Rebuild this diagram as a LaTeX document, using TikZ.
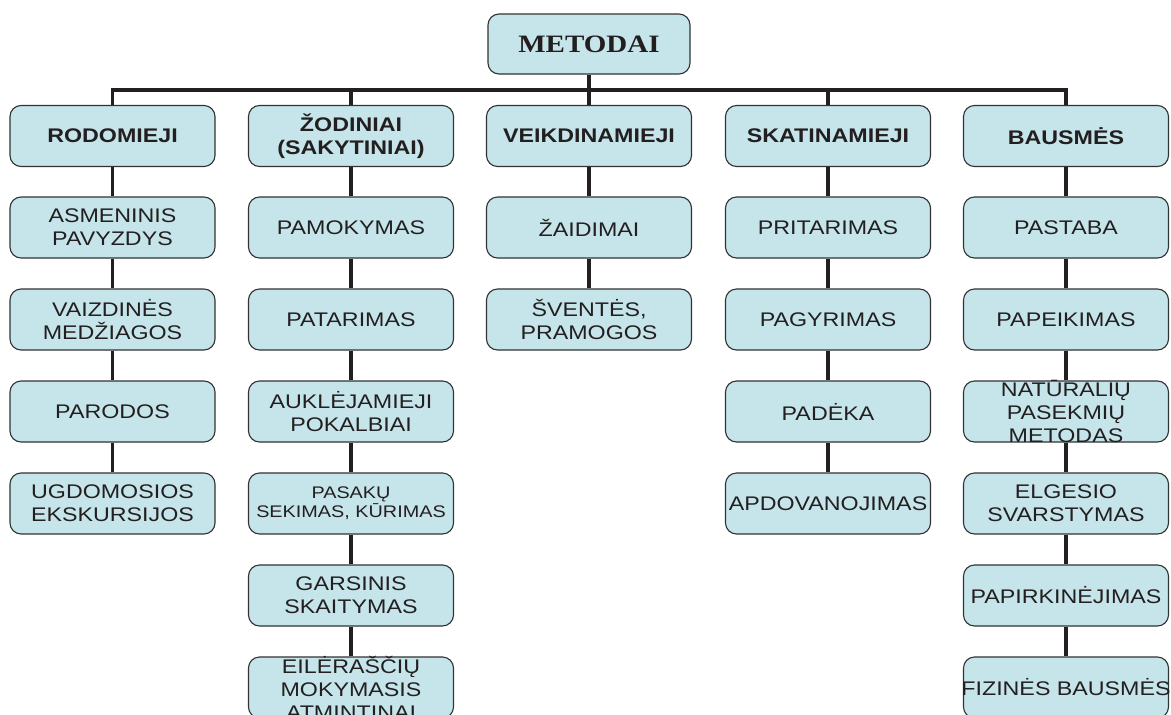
\documentclass[tikz,border=0pt]{standalone}
\usepackage{fontspec}
\setmainfont{Liberation Sans}[FakeStretch=1.18]
\newfontfamily\topfont{Liberation Serif}[FakeStretch=1.16]
\usetikzlibrary{backgrounds}
\definecolor{boxfill}{RGB}{198,229,234}
\definecolor{boxline}{RGB}{50,50,50}
\definecolor{linec}{RGB}{35,31,32}
\definecolor{txtc}{RGB}{35,31,32}
\tikzset{
  boxs/.style={draw=boxline, fill=boxfill, rounded corners=11pt, line width=1.1pt,
    minimum width=205pt, minimum height=61pt, inner sep=0pt},
  lbl/.style={align=center, text=txtc, inner sep=0pt, font=\fontsize{19.7}{23}\selectfont},
  hdr/.style={lbl, font=\fontsize{19.7}{23}\selectfont\bfseries},
  small/.style={lbl, font=\fontsize{16.8}{19}\selectfont},
  toplbl/.style={lbl, font=\fontsize{25}{28}\selectfont\topfont\bfseries},
  conn/.style={line width=3.8pt, draw=linec}
}
\newcommand\mkbox[4][lbl]{\node[boxs] (#2) at (#3) {}; \node[#1] (#2t) at (#2.center) {#4};}
\begin{document}
\begin{tikzpicture}[x=1pt,y=-1pt]
\useasboundingbox (0,0) rectangle (1171,715);
% top
\node[boxs, minimum width=202pt, minimum height=60pt] (top) at (589,44) {};
\node[toplbl] (topt) at (top.center) {METODAI};
% column 1
\mkbox[hdr]{a0}{112.5,136}{RODOMIEJI}
\mkbox{a1}{112.5,227.5}{ASMENINIS\\PAVYZDYS}
\mkbox{a2}{112.5,319.5}{VAIZDINĖS\\MEDŽIAGOS}
\mkbox{a3}{112.5,411.5}{PARODOS}
\mkbox{a4}{112.5,503.5}{UGDOMOSIOS\\EKSKURSIJOS}
% column 2
\mkbox[hdr]{b0}{351,136}{ŽODINIAI\\(SAKYTINIAI)}
\mkbox{b1}{351,227.5}{PAMOKYMAS}
\mkbox{b2}{351,319.5}{PATARIMAS}
\mkbox{b3}{351,411.5}{AUKLĖJAMIEJI\\POKALBIAI}
\mkbox[small]{b4}{351,503.5}{PASAKŲ\\SEKIMAS, KŪRIMAS}
\mkbox{b5}{351,595.5}{GARSINIS\\SKAITYMAS}
\mkbox{b6}{351,687.5}{EILĖRAŠČIŲ\\MOKYMASIS\\ATMINTINAI}
% column 3
\mkbox[hdr]{c0}{589,136}{VEIKDINAMIEJI}
\mkbox{c1}{589,227.5}{ŽAIDIMAI}
\mkbox{c2}{589,319.5}{ŠVENTĖS,\\PRAMOGOS}
% column 4
\mkbox[hdr]{d0}{828,136}{SKATINAMIEJI}
\mkbox{d1}{828,227.5}{PRITARIMAS}
\mkbox{d2}{828,319.5}{PAGYRIMAS}
\mkbox{d3}{828,411.5}{PADĖKA}
\mkbox{d4}{828,503.5}{APDOVANOJIMAS}
% column 5
\mkbox[hdr]{e0}{1066,136}{BAUSMĖS}
\mkbox{e1}{1066,227.5}{PASTABA}
\mkbox{e2}{1066,319.5}{PAPEIKIMAS}
\mkbox{e3}{1066,411.5}{NATŪRALIŲ\\PASEKMIŲ\\METODAS}
\mkbox{e4}{1066,503.5}{ELGESIO\\SVARSTYMAS}
\mkbox{e5}{1066,595.5}{PAPIRKINĖJIMAS}
\mkbox{e6}{1066,687.5}{FIZINĖS BAUSMĖS}
\coordinate (bar) at (589,90);
\begin{pgfonlayer}{background}
\fill[white] (0,0) rectangle (1171,715);
\draw[conn] (top.south) -- (bar);
\draw[conn] (a0.north) |- (bar) -| (e0.north);
\draw[conn] (b0.north) -- (b0.north |- bar);
\draw[conn] (c0.north) -- (c0.north |- bar);
\draw[conn] (d0.north) -- (d0.north |- bar);
\foreach \c/\n in {a/4,b/6,c/2,d/4,e/6}{
  \foreach \i [evaluate=\i as \j using int(\i-1)] in {1,...,\n}{
    \draw[conn] (\c\j.south) -- (\c\i.north);
  }
}
\end{pgfonlayer}
\end{tikzpicture}
\end{document}
